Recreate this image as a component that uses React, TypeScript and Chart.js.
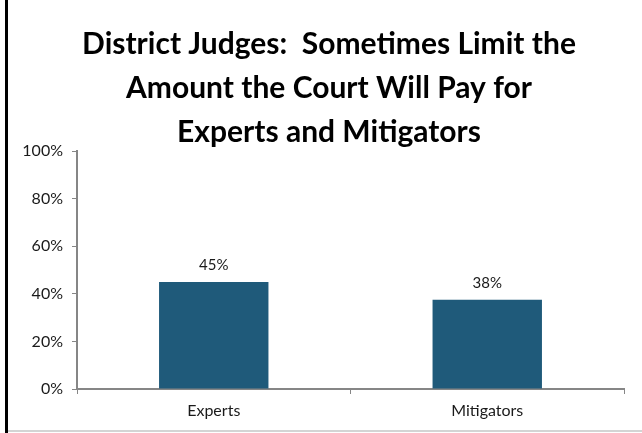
import React, { useEffect, useRef } from "react";
import { Chart, registerables } from "chart.js";

Chart.register(...registerables);

const titleLines = ["District Judges:  Sometimes Limit the", "Amount the Court Will Pay for", "Experts and Mitigators"];
const categories = ["Experts", "Mitigators"];
const values = [45, 37.5];
const valueLabels = ["45%", "38%"];
const yTicks = [0, 20, 40, 60, 80, 100];

const FONT = "Lato, 'Open Sans', sans-serif";

const framePlugin = {
  id: "frame",
  afterDraw(chart: any) {
    const ctx = chart.ctx;
    ctx.save();
    ctx.fillStyle = "#000000";
    ctx.fillRect(5, 0, 3, 433);
    ctx.fillStyle = "#d4d4d4";
    ctx.fillRect(8, 430, 634, 2);
    ctx.restore();
  },
};

const titlePlugin = {
  id: "customTitle",
  afterDraw(chart: any) {
    const ctx = chart.ctx;
    ctx.save();
    ctx.font = `bold 30px ${FONT}`;
    ctx.fillStyle = "#000000";
    ctx.textAlign = "center";
    ctx.textBaseline = "middle";
    const centers = [44, 88, 132];
    titleLines.forEach((line, i) => ctx.fillText(line, 329, centers[i]));
    ctx.restore();
  },
};

const valueLabelPlugin = {
  id: "valueLabels",
  afterDatasetsDraw(chart: any) {
    const ctx = chart.ctx;
    const meta = chart.getDatasetMeta(0);
    ctx.save();
    ctx.font = `15px ${FONT}`;
    ctx.fillStyle = "#1a1a1a";
    ctx.textAlign = "center";
    ctx.textBaseline = "middle";
    meta.data.forEach((bar: any, i: number) => {
      ctx.fillText(valueLabels[i], bar.x, bar.y - 17);
    });
    ctx.restore();
  },
};

export default function App() {
  const ref = useRef<HTMLCanvasElement>(null);
  useEffect(() => {
    document.body.style.margin = "0";
    const chart = new Chart(ref.current!, {
      type: "bar",
      data: {
        labels: categories,
        datasets: [
          {
            data: values,
            backgroundColor: "#1F5A7A",
            barPercentage: 0.4,
            categoryPercentage: 1,
          },
        ],
      },
      options: {
        animation: false,
        responsive: false,
        devicePixelRatio: 1,
        layout: { padding: { left: 0, right: 18, top: 151, bottom: 0 } },
        plugins: {
          legend: { display: false },
          tooltip: { enabled: false },
          title: { display: false },
        },
        scales: {
          x: {
            grid: {
              display: true,
              drawOnChartArea: false,
              drawTicks: true,
              tickLength: 5,
              color: "#868686",
              offset: true,
            },
            border: { display: true, color: "#868686", width: 2 },
            ticks: { color: "#1a1a1a", font: { family: FONT, size: 16 }, padding: 7 },
            afterFit(scale: any) {
              scale.height = 44;
            },
          },
          y: {
            min: 0,
            max: 100,
            afterBuildTicks(scale: any) {
              scale.ticks = yTicks.map((v) => ({ value: v }));
            },
            grid: {
              display: true,
              drawOnChartArea: false,
              drawTicks: true,
              tickLength: 5,
              color: "#868686",
            },
            border: { display: true, color: "#868686", width: 2 },
            ticks: {
              color: "#1a1a1a",
              font: { family: FONT, size: 16 },
              padding: 9,
              callback: (v: any) => `${v}%`,
            },
            afterFit(scale: any) {
              scale.width = 77;
            },
          },
        },
      },
      plugins: [framePlugin, titlePlugin, valueLabelPlugin],
    });
    return () => chart.destroy();
  }, []);
  return <canvas ref={ref} width={642} height={433} style={{ display: "block" }} />;
}
